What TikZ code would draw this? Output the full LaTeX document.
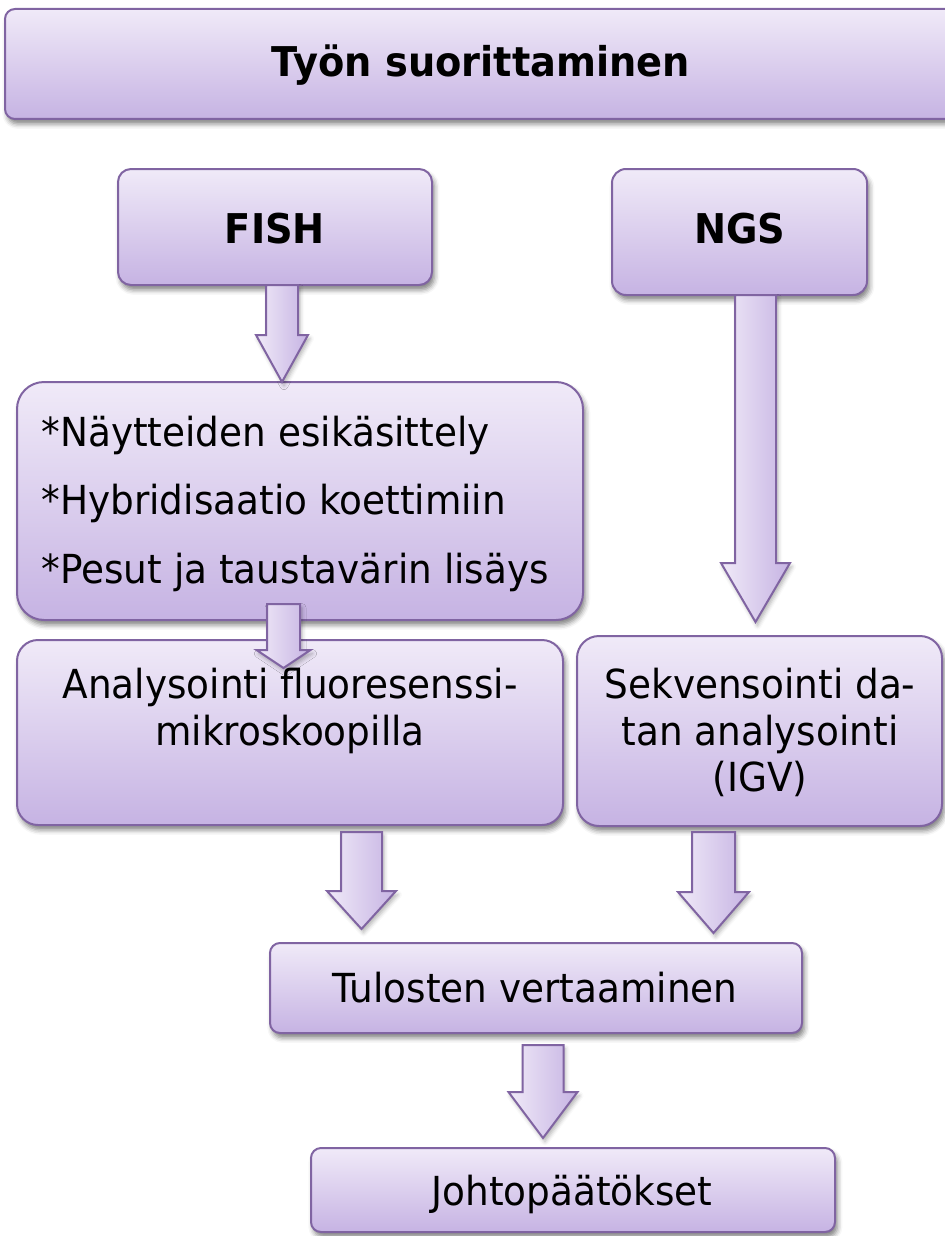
\documentclass[tikz,border=0pt]{standalone}
\usepackage{fontspec}
\setmainfont{DejaVu Sans}[FakeStretch=0.935]
\usetikzlibrary{calc,shadows.blur}

\definecolor{bordc}{HTML}{8064A2}
\definecolor{topc}{HTML}{F0EAF8}
\definecolor{botc}{HTML}{C6B3E3}

\tikzset{
  box/.style={draw=bordc, line width=1pt, top color=topc, bottom color=botc,
    inner sep=0pt, outer sep=0pt,
    blur shadow={shadow xshift=1.2pt, shadow yshift=-2.4pt, shadow blur radius=2.5pt, shadow opacity=50}},
  barrow/.style={draw=bordc, line width=1pt, left color=topc, right color=botc, line join=miter,
    blur shadow={shadow xshift=1pt, shadow yshift=-1.8pt, shadow blur radius=2pt, shadow opacity=30}},
  lbl/.style={font=\fontsize{20}{24}\selectfont, text=black, inner sep=0pt, anchor=base},
  hdr/.style={font=\fontsize{20.5}{24}\selectfont\bfseries, text=black, inner sep=0pt, anchor=base},
}

% rounded box given by its corners in pixel units: name, x1, y1, x2, y2, radius
\newcommand\mybox[6]{%
  \node[box, rounded corners=#6*0.5pt, minimum width={(#4-#2)*0.5pt},
        minimum height={(#5-#3)*0.5pt}] (#1) at ({(#2+#4)/2},{(#3+#5)/2}) {};}

% block arrow: start point, tip point, half shaft width, half head width, head length (pixels)
\newcommand\blockarrow[5]{%
  \path[barrow] let \p1=(#1), \p2=(#2) in
    (\x2-#3*0.5pt,\y1) -- (\x2+#3*0.5pt,\y1) -- (\x2+#3*0.5pt,\y2+#5*0.5pt)
    -- (\x2+#4*0.5pt,\y2+#5*0.5pt) -- (\x2,\y2) -- (\x2-#4*0.5pt,\y2+#5*0.5pt)
    -- (\x2-#3*0.5pt,\y2+#5*0.5pt) -- cycle;}

\begin{document}
\begin{tikzpicture}[x=0.5pt,y=-0.5pt]
\useasboundingbox (0,0) rectangle (944,1236);

% boxes
\mybox{title}{5}{9}{960}{119}{10}
\mybox{fish}{118}{169}{432}{285}{13}
\mybox{ngs}{612}{169}{867}{295}{14}
\mybox{list}{17}{382}{583}{620}{27}
\mybox{ana}{17}{640}{563}{825}{21}
\mybox{seq}{577}{636}{942}{826}{22}
\mybox{tul}{270}{943}{802}{1033}{10}
\mybox{joh}{311}{1148}{835}{1232}{10}

% arrow axes
\coordinate (xa) at (282,0);
\coordinate (xb) at (283.5,0);
\coordinate (xc) at (755.5,0);
\coordinate (xd) at (361.5,0);
\coordinate (xe) at (713.5,0);
\coordinate (xf) at (543,0);

% connectors
\blockarrow{fish.south -| xa}{list.north -| xa}{16}{26}{47}
\blockarrow{$(list.south -| xb)+(0,-16)$}{$(ana.north -| xb)+(0,28)$}{16.5}{27}{18}
\blockarrow{ngs.south -| xc}{$(seq.north -| xc)+(0,-14)$}{20.5}{34.5}{59}
\blockarrow{$(ana.south -| xd)+(0,7)$}{$(tul.north -| xd)+(0,-14)$}{20.5}{34.5}{38}
\blockarrow{$(seq.south -| xe)+(0,6)$}{$(tul.north -| xe)+(0,-10)$}{21.5}{35.5}{41}
\blockarrow{$(tul.south -| xf)+(0,12)$}{$(joh.north -| xf)+(0,-10)$}{20.5}{34.5}{46}

% texts
\node[hdr] (titletxt) at (481,76) {Työn suorittaminen};
\node[hdr] (fishtxt) at (275,243) {FISH};
\node[hdr] (ngstxt) at (740,243) {NGS};

\node[lbl, anchor=base west] (l1) at (41,446) {*Näytteiden esikäsittely};
\node[lbl, anchor=base west] (l2) at (41,514) {*Hybridisaatio koettimiin};
\node[lbl, anchor=base west] (l3) at (41,583) {*Pesut ja taustavärin lisäys};

\node[lbl] (a1) at (290,698) {Analysointi fluoresenssi-};
\node[lbl] (a2) at (290,745) {mikroskoopilla};

\node[lbl] (s1) at (760,698) {Sekvensointi da-};
\node[lbl] (s2) at (760,745) {tan analysointi};
\node[lbl] (s3) at (760,791) {(IGV)};

\node[lbl] (tultxt) at (535,1002) {Tulosten vertaaminen};
\node[lbl] (johtxt) at (572,1205) {Johtopäätökset};
\end{tikzpicture}
\end{document}
